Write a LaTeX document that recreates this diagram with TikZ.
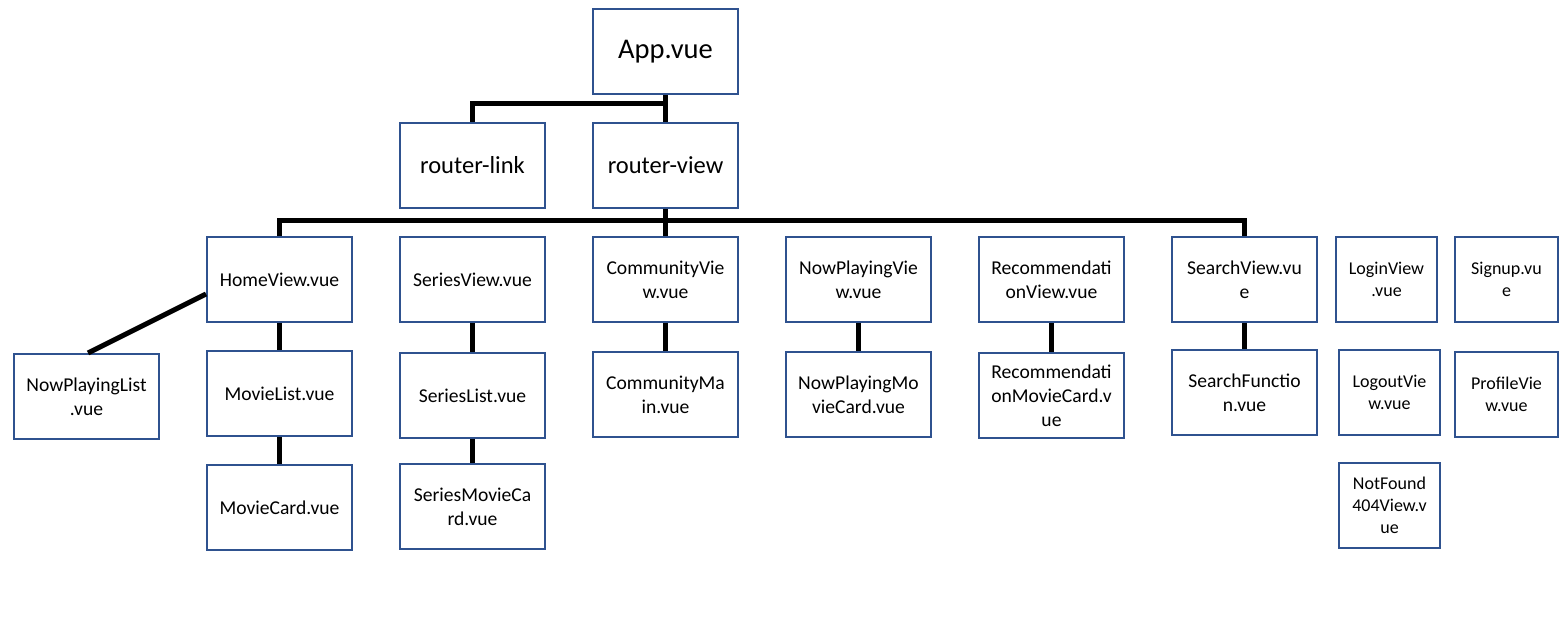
\documentclass[tikz,border=0pt]{standalone}
\usepackage{fontspec}
\setmainfont{Carlito}
\usetikzlibrary{positioning}
\definecolor{boxblue}{RGB}{47,82,143}
\tikzset{
  comp/.style={draw=boxblue,line width=2pt,fill=white,minimum width=145pt,minimum height=85pt,inner sep=1pt,align=center,font=\fontsize{19.6}{24}\selectfont},
  narrow/.style={comp,minimum width=101pt,font=\fontsize{18}{22}\selectfont},
  big/.style={comp,font=\fontsize{24.5}{29}\selectfont},
  wire/.style={draw=black,line width=5pt,line join=miter}
}
\begin{document}
\begin{tikzpicture}[x=1pt,y=-1pt]
\useasboundingbox (0,0) rectangle (1559,617);
% root and router
\node[comp,font=\fontsize{28.5}{34}\selectfont] (app) at (665.5,51.5) {App.vue};
\node[big] (rlink) at (472.5,165.5) {router-link};
\node[big] (rview) at (665.5,165.5) {router-view};
% views
\foreach \x/\name/\lab in {279.5/home/HomeView.vue,472.5/series/SeriesView.vue,665.5/community/{CommunityVie\\w.vue},858.5/nowplaying/{NowPlayingVie\\w.vue},1051.5/recommend/{Recommendati\\onView.vue},1244.5/search/{SearchView.vu\\e}} {
  \node[comp] (\name) at (\x,279.5) {\lab};
}
\node[narrow] (login) at (1386.5,279.5) {LoginView\\.vue};
\node[narrow,minimum width=103pt] (signup) at (1506.5,279.5) {Signup.vu\\e};
% children
\node[comp] (nplist) at (86.5,396.5) {NowPlayingList\\.vue};
\node[comp] (movielist) at (279.5,393.5) {MovieList.vue};
\node[comp] (serieslist) at (472.5,395.5) {SeriesList.vue};
\node[comp] (commmain) at (665.5,394.5) {CommunityMa\\in.vue};
\node[comp] (npcard) at (858.5,394.5) {NowPlayingMo\\vieCard.vue};
\node[comp] (reccard) at (1051.5,395.5) {Recommendati\\onMovieCard.v\\ue};
\node[comp] (searchfn) at (1244.5,392.5) {SearchFunctio\\n.vue};
\node[narrow] (logout) at (1389.5,392.5) {LogoutVie\\w.vue};
\node[narrow,minimum width=103pt] (profile) at (1506.5,394.5) {ProfileVie\\w.vue};
\node[comp] (moviecard) at (279.5,507.5) {MovieCard.vue};
\node[comp] (seriescard) at (472.5,506.5) {SeriesMovieCa\\rd.vue};
\node[narrow] (notfound) at (1389.5,505.5) {NotFound\\404View.v\\ue};
% connectors
\coordinate (split) at (665.5,104);
\coordinate (hub) at (665.5,221);
\draw[wire] (app.south) -- (rview.north);
\draw[wire] (rlink.north) |- (split);
\draw[wire] (rview.south) -- (community.north);
\draw[wire] (home.north) |- (hub) -| (search.north);
\draw[wire] ([yshift=-14.5pt]home.west) -- ([xshift=1.5pt]nplist.north);
\draw[wire] (home) -- (movielist);
\draw[wire] (movielist) -- (moviecard);
\draw[wire] (series) -- (serieslist);
\draw[wire] (serieslist) -- (seriescard);
\draw[wire] (community) -- (commmain);
\draw[wire] (nowplaying) -- (npcard);
\draw[wire] (recommend) -- (reccard);
\draw[wire] (search) -- (searchfn);
\end{tikzpicture}
\end{document}
